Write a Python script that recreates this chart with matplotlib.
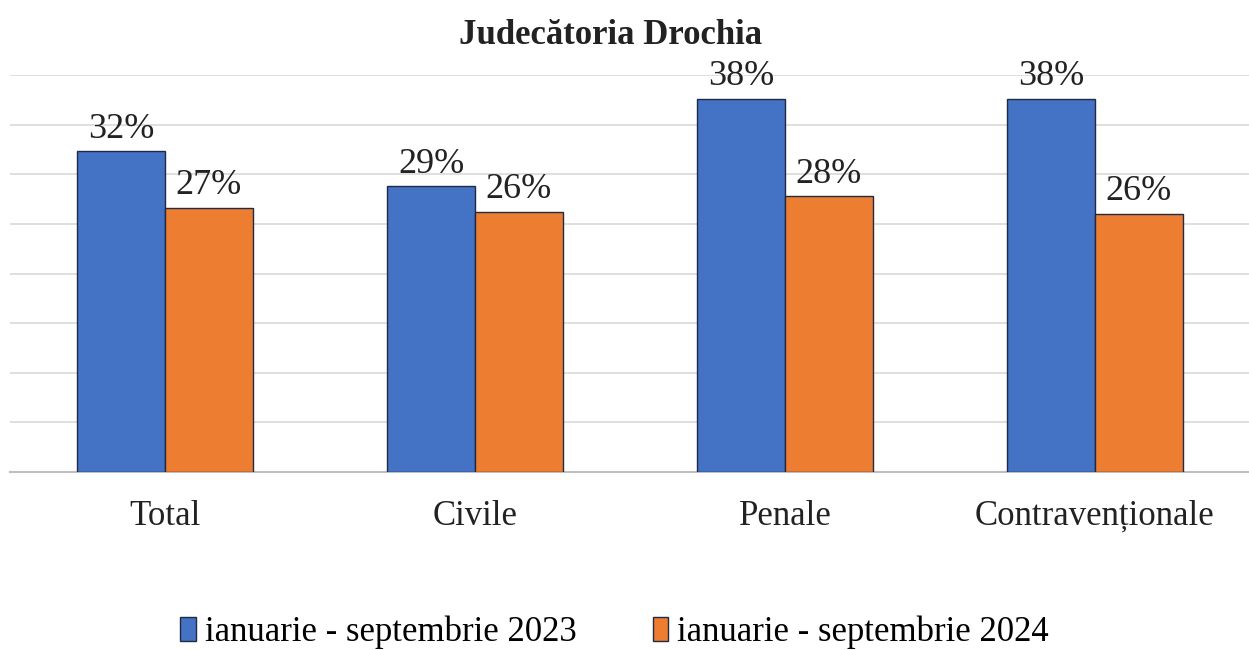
import numpy as np
from matplotlib import pyplot as plt

categories = ['Total', 'Civile', 'Penale', 'Contravenționale']
series_names = ['ianuarie - septembrie 2023', 'ianuarie - septembrie 2024']
values_2023 = [32.3, 28.8, 37.6, 37.6]
values_2024 = [26.6, 26.2, 27.8, 26.0]

BLUE = '#4472C4'
ORANGE = '#ED7D31'
FONT = ['Liberation Serif', 'DejaVu Serif']

plt.rcParams['font.family'] = FONT

fig = plt.figure(figsize=(12.49, 6.5), dpi=100)
ax = fig.add_axes([10 / 1249, 178 / 650, 1240 / 1249, 397 / 650])

x = np.arange(len(categories))
width = 0.283
bars_a = ax.bar(x - width / 2, values_2023, width, color=BLUE, edgecolor='#1f2a44',
                linewidth=1.0, label=series_names[0], zorder=3)
bars_b = ax.bar(x + width / 2, values_2024, width, color=ORANGE, edgecolor='#1f2a44',
                linewidth=1.0, label=series_names[1], zorder=3)

for bars in (bars_a, bars_b):
    ax.bar_label(bars, labels=['%.0f%%' % b.get_height() for b in bars],
                 padding=4, fontsize=26, color='#222222')

ax.set_xlim(-0.5, 3.5)
ax.set_ylim(0, 40)
ax.set_yticks(np.arange(0, 41, 5))
ax.yaxis.grid(True, color='#d9d9d9', linewidth=1.2, zorder=0)
ax.set_axisbelow(True)
ax.tick_params(axis='y', left=False, labelleft=False)
ax.tick_params(axis='x', length=0, pad=20, labelsize=25, labelcolor='#222222')
ax.set_xticks(x)
ax.set_xticklabels(categories)
for side in ('top', 'right', 'left'):
    ax.spines[side].set_visible(False)
ax.spines['bottom'].set_color('#bfbfbf')
ax.spines['bottom'].set_linewidth(1.5)

fig.text(0.489, 0.946, 'Judecătoria Drochia', ha='center', va='center',
         fontsize=25, fontweight='bold', color='#222222')

fig.legend(loc='center', bbox_to_anchor=(0.492, 0.027), ncol=2, frameon=False,
           fontsize=25, handlelength=0.45, handleheight=0.7, handletextpad=0.25,
           columnspacing=2.2)

fig.savefig('out.png', dpi=100)
